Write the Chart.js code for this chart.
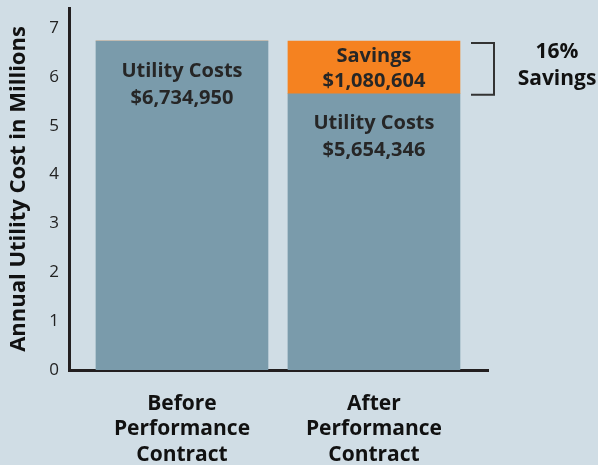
<!DOCTYPE html>
<html>
<head>
<meta charset="utf-8">
<script src="https://cdn.jsdelivr.net/npm/chart.js@4"></script>
<style>
  html, body { margin:0; padding:0; background:#d0dde5; }
  #wrap { width:598px; height:465px; position:relative; }
</style>
</head>
<body>
<div id="wrap"><canvas id="c" width="598" height="465"></canvas></div>
<script>
// dados (milhões de US$)
const categorias = [['Before', 'Performance', 'Contract'], ['After', 'Performance', 'Contract']];
const posicoes   = [1, 2];
const custos     = [6.734950, 5.654346];
const economia   = [0, 1.080604];
const rotCustos  = ['$6,734,950', '$5,654,346'];
const rotEconomia = '$1,080,604';
const yTicks     = [0, 1, 2, 3, 4, 5, 6, 7];

const FONTE = '"Open Sans", "DejaVu Sans", sans-serif';
const COR_BARRA = '#7a9bab';
const COR_LARANJA = '#f58220';
const COR_TEXTO = '#262626';

// textos dentro das barras + colchete de 16%
const rotulos = {
  id: 'rotulos',
  afterDatasetsDraw(chart){
    const { ctx, scales:{ x, y } } = chart;
    ctx.save();
    ctx.textAlign = 'center';
    ctx.textBaseline = 'middle';
    ctx.fillStyle = COR_TEXTO;
    ctx.font = `bold 20px ${FONTE}`;

    posicoes.forEach((p, i) => {
      const cx = x.getPixelForValue(p);
      const topo = y.getPixelForValue(custos[i]);
      ctx.fillText('Utility Costs', cx, topo + 30);
      ctx.fillText(rotCustos[i], cx, topo + 57);
    });

    // savings (barra laranja)
    const cx2 = x.getPixelForValue(posicoes[1]);
    const topoS = y.getPixelForValue(custos[1] + economia[1]);
    const baseS = y.getPixelForValue(custos[1]);
    ctx.fillText('Savings', cx2, topoS + 15);
    ctx.fillText(rotEconomia, cx2, topoS + 40);

    // colchete
    const bx = 494;
    ctx.strokeStyle = '#333';
    ctx.lineWidth = 2;
    ctx.beginPath();
    ctx.moveTo(471, topoS + 2);
    ctx.lineTo(bx, topoS + 2);
    ctx.lineTo(bx, baseS + 1);
    ctx.lineTo(471, baseS + 1);
    ctx.stroke();

    ctx.fillStyle = '#111';
    ctx.font = `bold 21px ${FONTE}`;
    ctx.fillText('16%', 557, 52);
    ctx.fillText('Savings', 557, 79);
    ctx.restore();
  }
};

new Chart(document.getElementById('c'), {
  type: 'bar',
  data: {
    datasets: [
      { label: 'Utility Costs', data: posicoes.map((p, i) => ({ x: p, y: custos[i] })),
        backgroundColor: COR_BARRA, barThickness: 172, borderWidth: 0, grouped: false },
      { label: 'Savings', data: posicoes.map((p, i) => ({ x: p, y: economia[i] })),
        backgroundColor: COR_LARANJA, barThickness: 172, borderWidth: 0, grouped: false }
    ]
  },
  options: {
    responsive: false,
    animation: false,
    layout: { padding: { top: 8, right: 110, left: 0, bottom: 0 } },
    plugins: { legend: { display: false }, tooltip: { enabled: false } },
    scales: {
      x: {
        type: 'linear', offset: false,
        min: 0.4115, max: 2.594,
        grid: { display: false, drawTicks: false },
        border: { color: '#231f20', width: 3 },
        afterBuildTicks: s => { s.ticks = posicoes.map(v => ({ value: v })); },
        afterFit: s => { s.height = 95; s.paddingLeft = 0; s.paddingRight = 0; },
        ticks: {
          padding: 21, color: '#111', autoSkip: false, maxRotation: 0,
          font: { family: FONTE, size: 21, weight: 'bold', lineHeight: 1.22 },
          callback: v => categorias[posicoes.indexOf(v)] || ''
        }
      },
      y: {
        stacked: true, min: 0, max: 7.41,
        grid: { display: false, drawTicks: false },
        border: { color: '#231f20', width: 3 },
        afterBuildTicks: s => { s.ticks = yTicks.map(v => ({ value: v })); },
        afterFit: s => { s.width = 69; s.paddingTop = 0; s.paddingBottom = 0; },
        ticks: {
          padding: 10, color: '#222',
          font: { family: FONTE, size: 17 }
        },
        title: {
          display: true, text: 'Annual Utility Cost in Millions', color: '#111',
          font: { family: FONTE, size: 22, weight: 'bold' },
          padding: { top: 6, bottom: 0 }
        }
      }
    }
  },
  plugins: [rotulos]
});
</script>
</body>
</html>
